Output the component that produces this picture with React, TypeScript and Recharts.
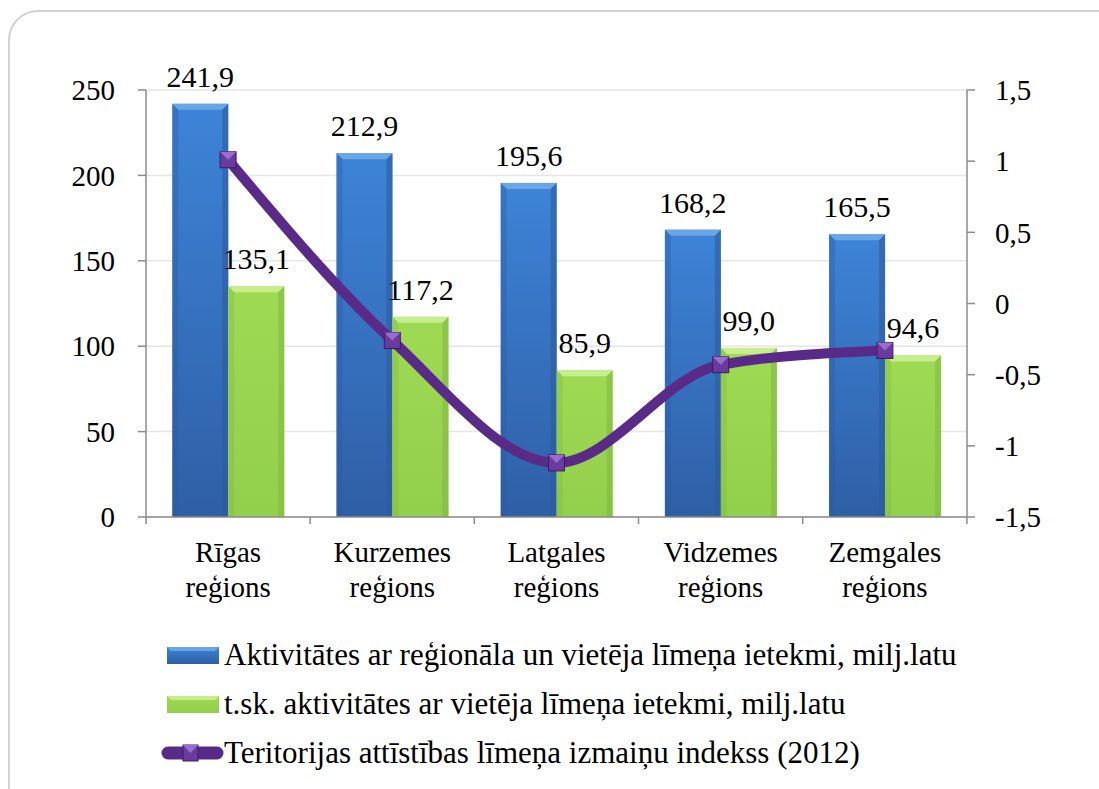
import {
  Bar,
  CartesianGrid,
  ComposedChart,
  LabelList,
  Legend,
  Line,
  XAxis,
  YAxis,
} from "recharts";

const FONT = "Liberation Serif";
const PURPLE = "#5a2a88";

const regions = ["Rīgas", "Kurzemes", "Latgales", "Vidzemes", "Zemgales"];
const regional = [241.9, 212.9, 195.6, 168.2, 165.5];
const local = [135.1, 117.2, 85.9, 99.0, 94.6];
const indexVals = [1.01, -0.26, -1.12, -0.43, -0.33];

const leftTicks = [0, 50, 100, 150, 200, 250];
const rightTicks = [-1.5, -1, -0.5, 0, 0.5, 1, 1.5];

const legendNames = [
  "Aktivitātes ar reģionāla un vietēja līmeņa ietekmi, milj.latu",
  "t.sk. aktivitātes ar vietēja līmeņa ietekmi, milj.latu",
  "Teritorijas attīstības līmeņa izmaiņu indekss (2012)",
];

const data = regions.map((r, i) => ({
  name: r,
  regional: regional[i],
  local: local[i],
  index: indexVals[i],
}));

const comma = (v: number, d?: number) =>
  (d === undefined ? String(v) : v.toFixed(d)).replace(".", ",");

function bevelBar(kind: "blue" | "green") {
  return (p: any) => {
    const { x, y, width, height } = p;
    if (!height || height <= 0) return <g />;
    const b = 6;
    const top = kind === "blue" ? "#6aa6e6" : "#c6ee8c";
    const side = kind === "blue" ? "#2c5a9a" : "#7fb83e";
    return (
      <g>
        <rect x={x} y={y} width={width} height={height} fill={`url(#grad-${kind})`} />
        <polygon
          points={`${x},${y} ${x + width},${y} ${x + width - b},${y + b} ${x + b},${y + b}`}
          fill={top}
        />
        <polygon
          points={`${x},${y} ${x + b},${y + b} ${x + b},${y + height} ${x},${y + height}`}
          fill={side}
          opacity={0.35}
        />
        <polygon
          points={`${x + width},${y} ${x + width - b},${y + b} ${x + width - b},${y + height} ${x + width},${y + height}`}
          fill={side}
          opacity={0.55}
        />
      </g>
    );
  };
}

function SquareDot(p: any) {
  const { cx, cy } = p;
  if (cx == null || cy == null) return <g />;
  const s = 8;
  return (
    <g>
      <rect x={cx - s} y={cy - s} width={s * 2} height={s * 2} fill="#6b3a9e" stroke="#3e1a66" strokeWidth={1} />
      <polygon points={`${cx - s},${cy - s} ${cx + s},${cy - s} ${cx},${cy}`} fill="#9a6ccc" />
    </g>
  );
}

function RegionTick(p: any) {
  const { x, y, payload, index } = p;
  const half = 82;
  return (
    <g>
      <line x1={x + half} y1={y} x2={x + half} y2={y + 7} stroke="#8c8c8c" strokeWidth={1.5} />
      {index === 0 && (
        <line x1={x - half} y1={y} x2={x - half} y2={y + 7} stroke="#8c8c8c" strokeWidth={1.5} />
      )}
      <text x={x} y={y + 45} textAnchor="middle" style={{ fontFamily: FONT, fontSize: 29 }} fill="#000">
        {payload.value}
      </text>
      <text x={x} y={y + 80} textAnchor="middle" style={{ fontFamily: FONT, fontSize: 29 }} fill="#000">
        reģions
      </text>
    </g>
  );
}

function LegendBox() {
  const row = (i: number, icon: React.ReactNode) => (
    <div
      key={i}
      style={{
        position: "absolute",
        top: 19 + i * 49,
        left: 152,
        height: 34,
        display: "flex",
        alignItems: "center",
        fontFamily: FONT,
        fontSize: 31,
        color: "#000",
        whiteSpace: "nowrap",
      }}
    >
      <svg width={72} height={34} style={{ flex: "none" }}>
        {icon}
      </svg>
      <span>{legendNames[i]}</span>
    </div>
  );
  return (
    <div style={{ position: "relative", height: 150 }}>
      {row(
        0,
        <g>
          <rect x={15} y={9} width={52} height={17} fill="url(#grad-blue)" />
          <polygon points="15,9 67,9 63,13 19,13" fill="#6aa6e6" />
        </g>
      )}
      {row(
        1,
        <g>
          <rect x={15} y={9} width={52} height={17} fill="url(#grad-green)" />
          <polygon points="15,9 67,9 63,13 19,13" fill="#c6ee8c" />
        </g>
      )}
      {row(
        2,
        <g>
          <line x1={16} y1={17} x2={65} y2={17} stroke={PURPLE} strokeWidth={13} strokeLinecap="round" />
          <rect x={31} y={9} width={15} height={16} fill="#6b3a9e" stroke="#3e1a66" />
          <polygon points="31,9 46,9 38.5,17" fill="#9a6ccc" />
        </g>
      )}
    </div>
  );
}

const tickStyle = { fontFamily: FONT, fontSize: 29, fill: "#000" };
const labelStyle = { fontFamily: FONT, fontSize: 30 };

export default function App() {
  return (
    <div
      style={{
        position: "absolute",
        left: 0,
        top: 0,
        width: 1099,
        height: 789,
        overflow: "hidden",
        background: "#fff",
        fontFamily: FONT,
      }}
    >
      <div
        style={{
          position: "absolute",
          left: 8,
          top: 10,
          width: 1130,
          height: 820,
          border: "2px solid #d2d2d2",
          borderRadius: 30,
        }}
      />
      <div style={{ position: "absolute", left: 0, top: 0 }}>
        <ComposedChart
          width={1099}
          height={789}
          data={data}
          margin={{ top: 90, right: 0, bottom: 20, left: 0 }}
          barGap={0}
          barCategoryGap="16%"
        >
          <defs>
            <linearGradient id="grad-blue" x1="0" y1="0" x2="0" y2="1">
              <stop offset="0%" stopColor="#3d84d8" />
              <stop offset="100%" stopColor="#2f5fa6" />
            </linearGradient>
            <linearGradient id="grad-green" x1="0" y1="0" x2="0" y2="1">
              <stop offset="0%" stopColor="#9fda55" />
              <stop offset="100%" stopColor="#92cf4a" />
            </linearGradient>
          </defs>
          <CartesianGrid vertical={false} stroke="#e6e6e6" strokeWidth={1.5} yAxisId="l" />
          <XAxis
            dataKey="name"
            height={102}
            tickLine={false}
            tickSize={0}
            tickMargin={0}
            interval={0}
            axisLine={{ stroke: "#8c8c8c", strokeWidth: 1.5 }}
            tick={<RegionTick />}
          />
          <YAxis
            yAxisId="l"
            width={146}
            domain={[0, 250]}
            ticks={leftTicks}
            interval={0}
            tickSize={8}
            tickMargin={23}
            axisLine={{ stroke: "#8c8c8c", strokeWidth: 1.5 }}
            tickLine={{ stroke: "#8c8c8c", strokeWidth: 1.5 }}
            tick={{ ...tickStyle, style: { fontFamily: FONT, fontSize: 29 } }}
          />
          <YAxis
            yAxisId="r"
            orientation="right"
            width={132}
            domain={[-1.5, 1.5]}
            ticks={rightTicks}
            interval={0}
            tickSize={8}
            tickMargin={20}
            tickFormatter={(v) => comma(v as number)}
            axisLine={{ stroke: "#8c8c8c", strokeWidth: 1.5 }}
            tickLine={{ stroke: "#8c8c8c", strokeWidth: 1.5 }}
            tick={{ ...tickStyle, textAnchor: "start", style: { fontFamily: FONT, fontSize: 29 } }}
          />
          <Legend verticalAlign="bottom" height={150} content={() => <LegendBox />} />
          <Bar yAxisId="l" dataKey="regional" name={legendNames[0]} shape={bevelBar("blue")} isAnimationActive={false}>
            <LabelList
              dataKey="regional"
              position="top"
              offset={17}
              formatter={(v: any) => comma(v as number, 1)}
              fill="#000"
              style={labelStyle}
            />
          </Bar>
          <Bar yAxisId="l" dataKey="local" name={legendNames[1]} shape={bevelBar("green")} isAnimationActive={false}>
            <LabelList
              dataKey="local"
              position="top"
              offset={17}
              formatter={(v: any) => comma(v as number, 1)}
              fill="#000"
              style={labelStyle}
            />
          </Bar>
          <Line
            yAxisId="r"
            type="monotone"
            dataKey="index"
            name={legendNames[2]}
            stroke={PURPLE}
            strokeWidth={10}
            dot={<SquareDot />}
            activeDot={false}
            isAnimationActive={false}
          />
        </ComposedChart>
      </div>
    </div>
  );
}
